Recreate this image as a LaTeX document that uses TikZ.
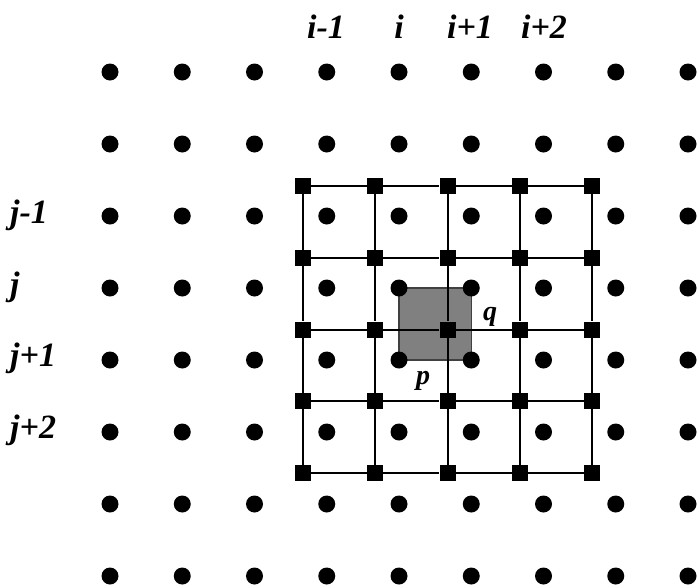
\documentclass[tikz,border=0pt]{standalone}
\usepackage{fontspec}
\setmainfont{Liberation Serif}
\begin{document}
\begin{tikzpicture}[x=1pt,y=-1pt,
  dot/.style={circle,fill=black,inner sep=0pt,minimum size=17pt},
  gnode/.style={rectangle,fill=black,inner sep=0pt,minimum size=16pt},
  lbl/.style={font=\fontsize{34}{38}\selectfont\bfseries\itshape,inner sep=0pt,anchor=base},
  rlbl/.style={font=\fontsize{34}{38}\selectfont\bfseries\itshape,inner sep=0pt,anchor=base west},
  pq/.style={font=\fontsize{28}{32}\selectfont\bfseries\itshape,inner sep=0pt,anchor=base},
  gridline/.style={line width=2pt},
  cell/.style={fill=black!50,draw=black!75,line width=1.2pt}]
\useasboundingbox (0,0) rectangle (697,587);
% shaded cell between four dots
\coordinate (cA) at (399.0,288);
\coordinate (cB) at (471.25,360);
\path[cell] (cA) rectangle (cB);
% dots
\foreach \c in {0,...,8}{
  \foreach \r in {0,...,7}{
    \node[dot] (d-\c-\r) at ({110+72.25*\c},{72+72*\r}) {};
  }
}
% grid nodes
\foreach \c in {0,...,4}{
  \foreach \r in {0,...,4}{
    \node[gnode] (g-\c-\r) at ({303+72.25*\c},{186+71.75*\r}) {};
  }
}
% grid lines
\foreach \r in {0,...,4}{
  \foreach \c/\n in {0/1,1/2,2/3,3/4}{
    \draw[gridline] (g-\c-\r) -- (g-\n-\r);
  }
}
\foreach \c in {0,...,4}{
  \foreach \r/\n in {0/1,1/2,2/3,3/4}{
    \draw[gridline] (g-\c-\r) -- (g-\c-\n);
  }
}
% column labels
\node[lbl] (li1) at (326,38) {i-1};
\node[lbl] (li) at (399,38) {i};
\node[lbl] (li2) at (470,38) {i+1};
\node[lbl] (li3) at (544,38) {i+2};
% row labels
\node[rlbl] (lj1) at (10,223) {j-1};
\node[rlbl] (lj) at (10,295) {j};
\node[rlbl] (lj2) at (10,366) {j+1};
\node[rlbl] (lj3) at (10,438) {j+2};
% p and q
\node[pq] (q) at (490,320) {q};
\node[pq] (p) at (423,384) {p};
\end{tikzpicture}
\end{document}
